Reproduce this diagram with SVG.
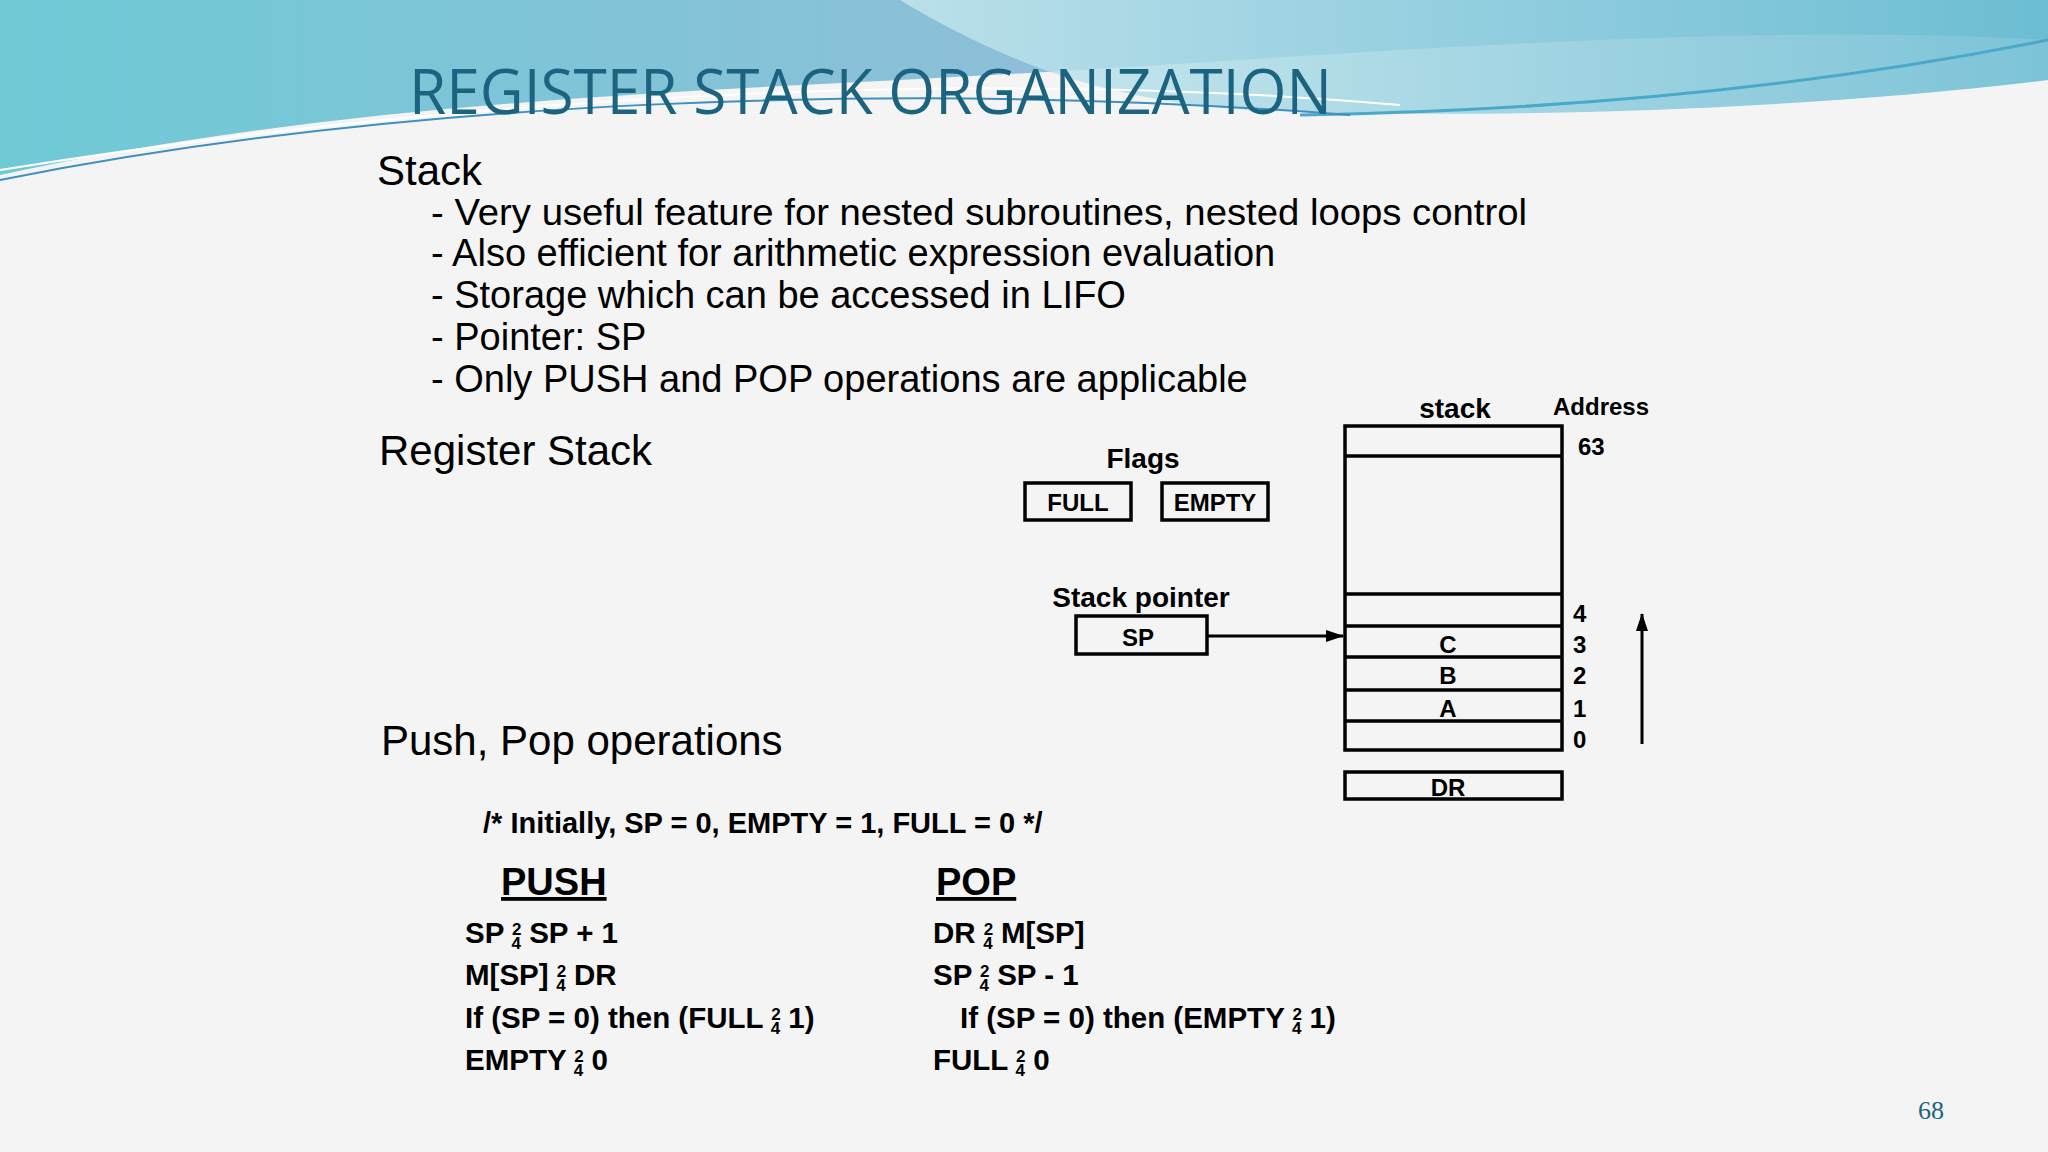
<svg xmlns="http://www.w3.org/2000/svg" xml:space="preserve" width="2048" height="1152" viewBox="0 0 2048 1152">
<defs>
<linearGradient id="g1" x1="0" y1="0" x2="1" y2="0"><stop offset="0" stop-color="#6fcad6"/><stop offset="0.5" stop-color="#8dbfd8"/><stop offset="1" stop-color="#9fd6e2"/></linearGradient>
<linearGradient id="g2" x1="0" y1="0" x2="1" y2="0"><stop offset="0" stop-color="#c6e8ef"/><stop offset="1" stop-color="#5fb7d0"/></linearGradient>
<marker id="ah" markerWidth="18" markerHeight="12" refX="17" refY="6" orient="auto" markerUnits="userSpaceOnUse"><path d="M0,0 L18,6 L0,12 z" fill="#000"/></marker>
</defs>
<style>
.b{font-family:"Liberation Sans",Arial,sans-serif;font-weight:bold;fill:#000}
.n{font-family:"Liberation Sans",Arial,sans-serif;fill:#000}
.box{fill:none;stroke:#000;stroke-width:3.5}
.sm{font-size:17px}
</style>
<rect width="2048" height="1152" fill="#f4f4f4"/>
<g id="background">
<path d="M0,0 L2048,0 L2048,40 C1700,20 1300,60 900,80 C600,95 300,110 0,175 Z" fill="url(#g1)"/>
<path d="M900,0 L2048,0 L2048,80 C1800,110 1500,120 1250,110 C1100,100 1000,60 900,0 Z" fill="url(#g2)" opacity="0.8"/>
<path d="M1300,115 C1600,110 1850,80 2048,40" fill="none" stroke="#4aa9c8" stroke-width="3"/>
<path d="M0,180 C400,100 900,80 1350,115" fill="none" stroke="#3f8fc0" stroke-width="2"/>
<path d="M0,170 C500,90 1000,70 1400,105" fill="none" stroke="#ffffff" stroke-width="2"/>
</g>
<text id="title" x="409" y="114" font-family="'Open Sans',sans-serif" font-size="62" fill="#1c6380" textLength="923" lengthAdjust="spacingAndGlyphs">REGISTER  STACK  ORGANIZATION</text>
<g id="bullets" class="n">
<text x="377" y="185" font-size="42">Stack</text>
<text x="431" y="225" font-size="37" textLength="1096" lengthAdjust="spacingAndGlyphs">- Very useful feature for nested subroutines, nested loops control</text>
<text x="431" y="266" font-size="38">- Also efficient for arithmetic expression evaluation</text>
<text x="431" y="308" font-size="38">- Storage which can be accessed in LIFO</text>
<text x="431" y="350" font-size="38">- Pointer:  SP</text>
<text x="431" y="392" font-size="38">- Only PUSH and POP operations are applicable</text>
<text x="379" y="465" font-size="42">Register Stack</text>
<text x="381" y="755" font-size="42">Push, Pop operations</text>
</g>
<g id="stack">
<rect class="box" x="1345" y="426" width="217" height="324"/>
<line class="box" x1="1345" y1="456" x2="1562" y2="456"/>
<line class="box" x1="1345" y1="594" x2="1562" y2="594"/>
<line class="box" x1="1345" y1="626" x2="1562" y2="626"/>
<line class="box" x1="1345" y1="657" x2="1562" y2="657"/>
<line class="box" x1="1345" y1="690" x2="1562" y2="690"/>
<line class="box" x1="1345" y1="721" x2="1562" y2="721"/>
<text class="b" x="1455" y="418" font-size="28" text-anchor="middle">stack</text>
<text class="b" x="1553" y="415" font-size="24">Address</text>
<g class="b" font-size="24">
<text x="1578" y="455">63</text>
<text x="1573" y="622">4</text><text x="1573" y="653">3</text><text x="1573" y="684">2</text><text x="1573" y="717">1</text><text x="1573" y="748">0</text>
<text x="1448" y="653" text-anchor="middle">C</text><text x="1448" y="684" text-anchor="middle">B</text><text x="1448" y="717" text-anchor="middle">A</text>
</g>
</g>
<g id="dr"><rect class="box" x="1345" y="772" width="217" height="27"/><text class="b" x="1448" y="796" font-size="24" text-anchor="middle">DR</text></g>
<g id="flags">
<text class="b" x="1143" y="468" font-size="28" text-anchor="middle">Flags</text>
<rect class="box" x="1025" y="483" width="106" height="37"/><text class="b" x="1078" y="511" font-size="24" text-anchor="middle">FULL</text>
<rect class="box" x="1162" y="483" width="106" height="37"/><text class="b" x="1215" y="511" font-size="24" text-anchor="middle">EMPTY</text>
</g>
<g id="sp">
<text class="b" x="1141" y="607" font-size="28" text-anchor="middle">Stack pointer</text>
<rect class="box" x="1076" y="616" width="131" height="38"/><text class="b" x="1138" y="646" font-size="24" text-anchor="middle">SP</text>
</g>
<g id="connectors" stroke="#000" stroke-width="3">
<line x1="1207" y1="636" x2="1343" y2="636" marker-end="url(#ah)"/>
<line x1="1642" y1="744" x2="1642" y2="614" marker-end="url(#ah)"/>
</g>
<g id="ops" class="b" font-size="29.5">
<text x="483" y="833" font-size="29">/*  Initially, SP = 0, EMPTY = 1, FULL = 0  */</text>
<text x="501" y="895" font-size="38" text-decoration="underline">PUSH</text>
<text x="936" y="895" font-size="38" text-decoration="underline">POP</text>
<text x="465" y="943">SP <tspan class="sm" dy="-8">2</tspan><tspan class="sm" dx="-10" dy="14">4</tspan><tspan dy="-6"> SP + 1</tspan></text>
<text x="465" y="985">M[SP] <tspan class="sm" dy="-8">2</tspan><tspan class="sm" dx="-10" dy="14">4</tspan><tspan dy="-6"> DR</tspan></text>
<text x="465" y="1028">If (SP = 0) then (FULL <tspan class="sm" dy="-8">2</tspan><tspan class="sm" dx="-10" dy="14">4</tspan><tspan dy="-6"> 1)</tspan></text>
<text x="465" y="1070">EMPTY <tspan class="sm" dy="-8">2</tspan><tspan class="sm" dx="-10" dy="14">4</tspan><tspan dy="-6"> 0</tspan></text>
<text x="933" y="943">DR <tspan class="sm" dy="-8">2</tspan><tspan class="sm" dx="-10" dy="14">4</tspan><tspan dy="-6"> M[SP]</tspan></text>
<text x="933" y="985">SP <tspan class="sm" dy="-8">2</tspan><tspan class="sm" dx="-10" dy="14">4</tspan><tspan dy="-6"> SP - 1</tspan></text>
<text x="960" y="1028">If (SP = 0) then (EMPTY <tspan class="sm" dy="-8">2</tspan><tspan class="sm" dx="-10" dy="14">4</tspan><tspan dy="-6"> 1)</tspan></text>
<text x="933" y="1070">FULL <tspan class="sm" dy="-8">2</tspan><tspan class="sm" dx="-10" dy="14">4</tspan><tspan dy="-6"> 0</tspan></text>
</g>
<text id="page" x="1918" y="1119" font-family="'Liberation Serif',serif" font-size="26" fill="#1c6380">68</text>
</svg>
